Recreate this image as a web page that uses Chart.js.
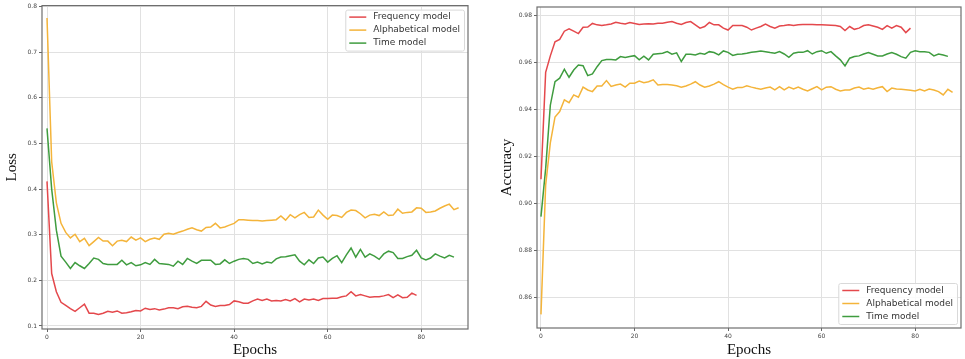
<!DOCTYPE html>
<html>
<head>
<meta charset="utf-8">
<script src="https://cdn.jsdelivr.net/npm/chart.js@4.4.1/dist/chart.umd.min.js"></script>
<style>
  html, body { margin: 0; padding: 0; background: #fff; }
  #wrap { position: relative; width: 965px; height: 359px; }
  #lossBox { position: absolute; left: 0; top: 0; width: 480px; height: 359px; }
  #accBox { position: absolute; left: 480px; top: 0; width: 485px; height: 359px; }
</style>
</head>
<body>
<div id="wrap">
  <div id="lossBox"><canvas id="lossChart" width="480" height="359"></canvas></div>
  <div id="accBox"><canvas id="accChart" width="485" height="359"></canvas></div>
</div>
<script>
const seriesNames = ['Frequency model', 'Alphabetical model', 'Time model'];
const seriesColors = ['#e4484c', '#f4b43a', '#3f9c3f'];

const epochTicks = [0, 20, 40, 60, 80];
const lossTicks = [0.1, 0.2, 0.3, 0.4, 0.5, 0.6, 0.7, 0.8];
const accTicks = [0.86, 0.88, 0.90, 0.92, 0.94, 0.96, 0.98];

// loss per epoch (index = epoch)
const lossFreq = [
  0.417, 0.215, 0.175, 0.152, 0.145, 0.138, 0.132, 0.140, 0.148, 0.128,
  0.128, 0.125, 0.128, 0.132, 0.130, 0.133, 0.128, 0.129, 0.131, 0.134,
  0.133, 0.139, 0.136, 0.138, 0.135, 0.137, 0.140, 0.140, 0.138, 0.142,
  0.143, 0.141, 0.140, 0.143, 0.154, 0.146, 0.143, 0.145, 0.145, 0.147,
  0.155, 0.153, 0.150, 0.150, 0.155, 0.159, 0.156, 0.159, 0.155, 0.156,
  0.155, 0.158, 0.155, 0.160, 0.153, 0.159, 0.157, 0.159, 0.156, 0.160,
  0.160, 0.161, 0.161, 0.164, 0.166, 0.175, 0.166, 0.169, 0.166, 0.163,
  0.164, 0.164, 0.166, 0.169, 0.162, 0.168, 0.162, 0.163, 0.172, 0.167
];
const lossAlpha = [
  0.775, 0.460, 0.370, 0.325, 0.305, 0.293, 0.301, 0.285, 0.292, 0.276,
  0.285, 0.294, 0.286, 0.286, 0.276, 0.286, 0.288, 0.285, 0.295, 0.288,
  0.293, 0.285, 0.290, 0.293, 0.290, 0.301, 0.303, 0.301, 0.305, 0.308,
  0.312, 0.315, 0.311, 0.308, 0.316, 0.317, 0.325, 0.315, 0.317, 0.321,
  0.325, 0.333, 0.333, 0.332, 0.331, 0.331, 0.330, 0.331, 0.332, 0.333,
  0.341, 0.332, 0.344, 0.337, 0.344, 0.349, 0.338, 0.339, 0.354, 0.343,
  0.334, 0.343, 0.342, 0.338, 0.349, 0.354, 0.353, 0.346, 0.337, 0.343,
  0.345, 0.342, 0.350, 0.342, 0.343, 0.356, 0.347, 0.349, 0.350, 0.359,
  0.358, 0.349, 0.350, 0.352, 0.358, 0.363, 0.367, 0.355, 0.359
];
const lossTime = [
  0.533, 0.400, 0.310, 0.253, 0.240, 0.226, 0.239, 0.232, 0.226, 0.237,
  0.249, 0.246, 0.237, 0.235, 0.235, 0.235, 0.244, 0.234, 0.239, 0.232,
  0.234, 0.239, 0.235, 0.246, 0.237, 0.236, 0.235, 0.231, 0.242, 0.235,
  0.248, 0.242, 0.237, 0.244, 0.244, 0.244, 0.235, 0.236, 0.245, 0.237,
  0.242, 0.246, 0.248, 0.246, 0.237, 0.240, 0.236, 0.240, 0.238, 0.247,
  0.251, 0.252, 0.254, 0.256, 0.242, 0.234, 0.245, 0.237, 0.249, 0.251,
  0.240, 0.248, 0.254, 0.239, 0.256, 0.271, 0.251, 0.268, 0.251, 0.258,
  0.253, 0.246, 0.258, 0.264, 0.261, 0.248, 0.248, 0.252, 0.255, 0.266,
  0.249, 0.245, 0.249, 0.258, 0.253, 0.249, 0.255, 0.251
];

// accuracy per epoch (index = epoch)
const accFreq = [
  0.9105, 0.956, 0.963, 0.969, 0.970, 0.9735, 0.9745, 0.9735, 0.9725, 0.9752,
  0.9753, 0.9768, 0.9762, 0.9759, 0.9762, 0.9766, 0.9773, 0.9769, 0.9766, 0.9772,
  0.9768, 0.9764, 0.9766, 0.9767, 0.9766, 0.9769, 0.9769, 0.9773, 0.9776, 0.9769,
  0.9764, 0.9772, 0.9776, 0.9762, 0.9748, 0.9755, 0.9772, 0.9762, 0.9762, 0.9748,
  0.9740, 0.9759, 0.9759, 0.9759, 0.9752, 0.9740, 0.9748, 0.9755, 0.9765, 0.9755,
  0.9748, 0.9757, 0.9759, 0.9762, 0.9759, 0.9762, 0.9763, 0.9763, 0.9763, 0.9762,
  0.9762, 0.9761, 0.9760, 0.9759, 0.9755, 0.9738, 0.9755, 0.9743, 0.9748, 0.9759,
  0.9762, 0.9757, 0.9752, 0.9743, 0.9759, 0.9748, 0.9759, 0.9752, 0.9729, 0.9748
];
const accAlpha = [
  0.853, 0.908, 0.926, 0.937, 0.9393, 0.9443, 0.9431, 0.9464, 0.9454, 0.9497,
  0.9485, 0.9478, 0.9502, 0.9502, 0.9525, 0.9500, 0.9506, 0.9510, 0.9497, 0.9514,
  0.9514, 0.9523, 0.9516, 0.9520, 0.9528, 0.9506, 0.9508, 0.9508, 0.9506, 0.9503,
  0.9497, 0.9502, 0.9510, 0.9520, 0.9506, 0.9497, 0.9502, 0.9510, 0.9520, 0.9508,
  0.9497, 0.9488, 0.9495, 0.9495, 0.9503, 0.9497, 0.9492, 0.9488, 0.9493, 0.9497,
  0.9485, 0.9499, 0.9485, 0.9497, 0.9489, 0.9497, 0.9488, 0.9481, 0.9490, 0.9499,
  0.9485, 0.9497, 0.9499, 0.9488, 0.9481, 0.9485, 0.9485, 0.9493, 0.9497, 0.9488,
  0.9493, 0.9488, 0.9494, 0.9499, 0.9478, 0.9493, 0.9489, 0.9488, 0.9486, 0.9484,
  0.9481, 0.9488, 0.9481, 0.9489, 0.9485, 0.9478, 0.9464, 0.9488, 0.9475
];
const accTime = [
  0.8946, 0.915, 0.942, 0.952, 0.9535, 0.9573, 0.9539, 0.9570, 0.9591, 0.9588,
  0.9546, 0.9553, 0.9584, 0.9610, 0.9615, 0.9615, 0.9613, 0.9627, 0.9623, 0.9627,
  0.9631, 0.9613, 0.9629, 0.9613, 0.9637, 0.9639, 0.9641, 0.9648, 0.9637, 0.9643,
  0.9606, 0.9637, 0.9637, 0.9634, 0.9641, 0.9637, 0.9648, 0.9644, 0.9634, 0.9651,
  0.9645, 0.9632, 0.9637, 0.9638, 0.9641, 0.9645, 0.9648, 0.9651, 0.9648, 0.9644,
  0.9641, 0.9648, 0.9638, 0.9624, 0.9641, 0.9645, 0.9645, 0.9652, 0.9638, 0.9648,
  0.9652, 0.9641, 0.9648, 0.9630, 0.9613, 0.9587, 0.9620, 0.9627, 0.9630, 0.9638,
  0.9644, 0.9637, 0.9630, 0.9630, 0.9638, 0.9644, 0.9637, 0.9627, 0.9620, 0.9645,
  0.9652, 0.9648, 0.9648, 0.9645, 0.9630, 0.9638, 0.9634, 0.9628
];

const toPoints = vals => vals.map((v, i) => ({ x: i, y: v }));

// matplotlib style frame round the plot area
const framePlugin = {
  id: 'frame',
  afterDraw(chart) {
    const { ctx, chartArea: a } = chart;
    ctx.save();
    ctx.strokeStyle = '#6e6e6e';
    ctx.lineWidth = 1.2;
    ctx.strokeRect(a.left, a.top, a.right - a.left, a.bottom - a.top);
    ctx.restore();
  }
};

// legend box drawn inside the plot area
const boxLegend = {
  id: 'boxLegend',
  afterDraw(chart, args, opts) {
    const { ctx, chartArea: a } = chart;
    ctx.save();
    ctx.font = '9px "DejaVu Sans"';
    const sets = chart.data.datasets;
    const textW = Math.max(...sets.map(d => ctx.measureText(d.label).width));
    const w = 28 + textW + 4;
    const h = 41;
    const x = a.right - 4 - w;
    const y = opts.corner === 'bottom' ? a.bottom - 4 - h : a.top + 4;
    ctx.fillStyle = 'rgba(255,255,255,0.85)';
    ctx.strokeStyle = '#d9d9d9';
    ctx.lineWidth = 1;
    ctx.beginPath();
    ctx.roundRect(x + 0.5, y + 0.5, w, h, 2);
    ctx.fill();
    ctx.stroke();
    sets.forEach((d, i) => {
      const cy = y + 7.5 + i * 13;
      ctx.strokeStyle = d.borderColor;
      ctx.lineWidth = 1.5;
      ctx.beginPath();
      ctx.moveTo(x + 4, cy);
      ctx.lineTo(x + 21, cy);
      ctx.stroke();
      ctx.fillStyle = '#333';
      ctx.textBaseline = 'middle';
      ctx.fillText(d.label, x + 28, cy);
    });
    ctx.restore();
  }
};

function makeChart(id, cfg) {
  const datasets = cfg.series.map((vals, i) => ({
    label: seriesNames[i],
    data: toPoints(vals),
    borderColor: seriesColors[i],
    backgroundColor: seriesColors[i],
    borderWidth: 1.5,
    pointRadius: 0,
    tension: 0,
    fill: false
  }));

  return new Chart(document.getElementById(id), {
    type: 'line',
    data: { datasets },
    plugins: [framePlugin, boxLegend],
    options: {
      responsive: false,
      devicePixelRatio: 1,
      animation: false,
      layout: { padding: cfg.padding },
      plugins: {
        legend: { display: false },
        tooltip: { enabled: false },
        boxLegend: { corner: cfg.corner }
      },
      scales: {
        x: {
          type: 'linear',
          min: cfg.xMin,
          max: cfg.xMax,
          afterBuildTicks: s => { s.ticks = epochTicks.map(v => ({ value: v })); },
          afterFit: s => { s.height = cfg.xHeight; },
          ticks: {
            font: { family: 'DejaVu Sans', size: 6 },
            color: '#444',
            padding: 2,
            maxRotation: 0
          },
          grid: { color: '#e1e1e1', lineWidth: 1, tickLength: 3, tickColor: '#666' },
          border: { display: false },
          title: {
            display: true,
            text: 'Epochs',
            font: { family: 'Liberation Serif', size: 15 },
            color: '#111',
            padding: { top: 0, bottom: 0 }
          }
        },
        y: {
          type: 'linear',
          min: cfg.yMin,
          max: cfg.yMax,
          afterBuildTicks: s => { s.ticks = cfg.yTicks.map(v => ({ value: v })); },
          afterFit: s => { s.width = 42; },
          ticks: {
            font: { family: 'DejaVu Sans', size: 6 },
            color: '#444',
            padding: 2,
            callback: v => v.toFixed(cfg.digits)
          },
          grid: { color: '#e1e1e1', lineWidth: 1, tickLength: 3, tickColor: '#666' },
          border: { display: false },
          title: {
            display: true,
            text: cfg.yTitle,
            font: { family: 'Liberation Serif', size: 15 },
            color: '#111',
            padding: { top: 3, bottom: 0 }
          }
        }
      }
    }
  });
}

makeChart('lossChart', {
  series: [lossFreq, lossAlpha, lossTime],
  yTicks: lossTicks,
  yTitle: 'Loss',
  digits: 1,
  xMin: -1.07, xMax: 90.0,
  yMin: 0.0934, yMax: 0.8022,
  xHeight: 30,
  corner: 'top',
  padding: { left: 0, right: 12, top: 5, bottom: 0 }
});

makeChart('accChart', {
  series: [accFreq, accAlpha, accTime],
  yTicks: accTicks,
  yTitle: 'Accuracy',
  digits: 2,
  xMin: -0.85, xMax: 89.8,
  yMin: 0.8472, yMax: 0.9838,
  xHeight: 31,
  corner: 'bottom',
  padding: { left: 15, right: 4, top: 7, bottom: 0 }
});
</script>
</body>
</html>
